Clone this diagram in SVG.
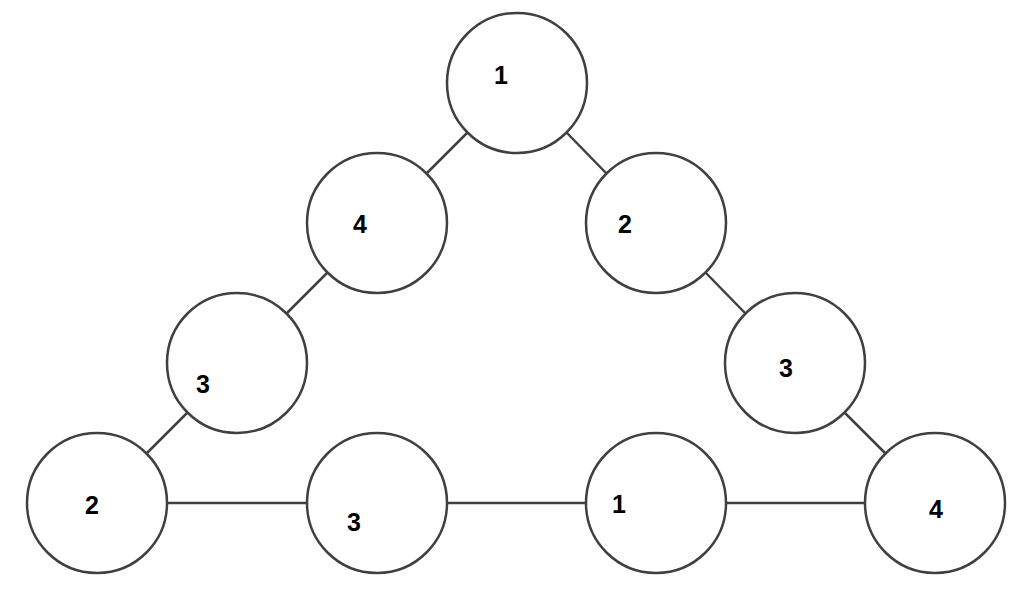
<svg xmlns="http://www.w3.org/2000/svg" width="1024" height="598" viewBox="0 0 1024 598">
<style>
circle{fill:#fff;stroke:#404040;stroke-width:2.5}
line{stroke:#404040;stroke-width:2.5}
text{font-family:"Liberation Sans",Arial,sans-serif;font-weight:bold;font-size:25px;fill:#000;text-anchor:middle;dominant-baseline:central}
</style>
<rect width="1024" height="598" fill="#fff"/>
<g id="connectors">
<line x1="467" y1="133" x2="427" y2="173"/>
<line x1="567" y1="133" x2="606" y2="173"/>
<line x1="327" y1="273" x2="287" y2="313"/>
<line x1="706" y1="273" x2="745" y2="313"/>
<line x1="187" y1="413" x2="147" y2="453"/>
<line x1="845" y1="413" x2="885" y2="453"/>
<line x1="167" y1="503" x2="307" y2="503"/>
<line x1="447" y1="503" x2="586" y2="503"/>
<line x1="726" y1="503" x2="865" y2="503"/>
</g>
<g id="n1"><circle cx="517" cy="83" r="70"/><text x="501" y="75">1</text></g>
<g id="n2"><circle cx="377" cy="223" r="70"/><text x="360" y="224">4</text></g>
<g id="n3"><circle cx="656" cy="223" r="70"/><text x="625" y="224">2</text></g>
<g id="n4"><circle cx="237" cy="363" r="70"/><text x="203" y="384">3</text></g>
<g id="n5"><circle cx="795" cy="363" r="70"/><text x="786" y="368">3</text></g>
<g id="n6"><circle cx="97" cy="503" r="70"/><text x="92" y="505">2</text></g>
<g id="n7"><circle cx="377" cy="503" r="70"/><text x="354" y="522">3</text></g>
<g id="n8"><circle cx="656" cy="503" r="70"/><text x="619" y="504">1</text></g>
<g id="n9"><circle cx="935" cy="503" r="70"/><text x="936" y="509">4</text></g>
</svg>
